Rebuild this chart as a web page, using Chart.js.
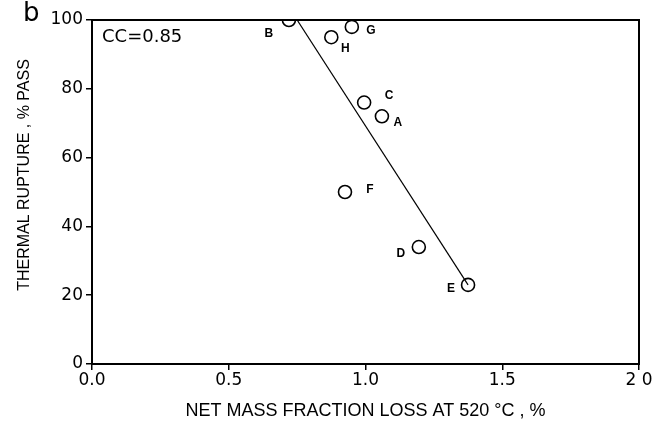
<!DOCTYPE html>
<html>
<head>
<meta charset="utf-8">
<script src="https://cdn.jsdelivr.net/npm/chart.js@4"></script>
<style>
  body { margin: 0; background: #fff; }
  #wrap { width: 666px; height: 430px; }
</style>
</head>
<body>
<div id="wrap"><canvas id="chart" width="666" height="430"></canvas></div>
<script>
// samples
const sampleNames = ['A', 'B', 'C', 'D', 'E', 'F', 'G', 'H'];
const massLoss = [1.06, 0.72, 0.995, 1.195, 1.375, 0.925, 0.95, 0.875];
const rupturePass = [72, 100, 76, 34, 23, 50, 98, 95];

// fitted line end points
const fitX = [0.75, 1.375];
const fitY = [100, 23];

const xTickLabels = ['0.0', '0.5', '1.0', '1.5', '2 0'];
const yTickLabels = ['0', '20', '40', '60', '80', '100'];

// where each letter sits relative to its circle (px)
const letterOffset = {
  A: [16, 6], B: [-20, 14], C: [25, -7], D: [-18, 7],
  E: [-17, 4], F: [25, -2], G: [19, 4], H: [14, 11]
};

const framePlugin = {
  id: 'frame',
  afterDraw(chart) {
    const ctx = chart.ctx;
    const a = chart.chartArea;
    ctx.save();
    ctx.strokeStyle = '#000';
    ctx.lineWidth = 2;
    ctx.strokeRect(a.left, a.top, a.right - a.left, a.bottom - a.top);

    ctx.fillStyle = '#000';
    // letters next to the circles
    ctx.font = 'bold 12px "Liberation Sans"';
    ctx.textAlign = 'center';
    ctx.textBaseline = 'middle';
    const meta = chart.getDatasetMeta(0);
    meta.data.forEach((pt, i) => {
      const off = letterOffset[sampleNames[i]];
      ctx.fillText(sampleNames[i], pt.x + off[0], pt.y + off[1]);
    });

    ctx.font = '18px "DejaVu Sans"';
    ctx.textAlign = 'left';
    ctx.fillText('CC=0.85', a.left + 10, a.top + 17);

    ctx.font = '26px "DejaVu Sans"';
    ctx.fillText('b', 23, 14);

    // y axis title
    ctx.font = '16px "Liberation Sans"';
    ctx.textAlign = 'center';
    ctx.translate(25, 175);
    ctx.rotate(-Math.PI / 2);
    ctx.fillText('THERMAL RUPTURE , % PASS', 0, 0);
    ctx.restore();
  }
};

new Chart(document.getElementById('chart'), {
  type: 'scatter',
  data: {
    datasets: [{
      label: 'samples',
      data: massLoss.map((v, i) => ({ x: v, y: rupturePass[i] })),
      pointStyle: 'circle',
      pointRadius: 6.5,
      pointBorderWidth: 1.6,
      pointBorderColor: '#000',
      pointBackgroundColor: 'rgba(0,0,0,0)',
      clip: { left: 0, top: 0, right: 0, bottom: 0 }
    }, {
      label: 'fit',
      type: 'line',
      data: fitX.map((v, i) => ({ x: v, y: fitY[i] })),
      borderColor: '#000',
      borderWidth: 1.2,
      pointRadius: 0,
      fill: false
    }]
  },
  options: {
    responsive: false,
    devicePixelRatio: 1,
    animation: false,
    layout: { padding: { left: 15, top: 20, right: 27, bottom: 8 } },
    plugins: {
      legend: { display: false },
      tooltip: { enabled: false }
    },
    scales: {
      x: {
        type: 'linear',
        min: 0,
        max: 2,
        border: { display: true, color: '#000', width: 2 },
        grid: { drawOnChartArea: false, color: '#000', lineWidth: 1.5, tickLength: 6 },
        ticks: {
          stepSize: 0.5,
          padding: 0,
          color: '#000',
          font: { family: 'DejaVu Sans', size: 17 },
          maxRotation: 0,
          callback: (v) => xTickLabels[Math.round(v / 0.5)]
        },
        title: {
          display: true,
          text: 'NET MASS FRACTION LOSS AT 520 °C , %',
          color: '#000',
          font: { family: 'Liberation Sans', size: 18 },
          padding: 0
        },
        afterFit: (s) => { s.height = 58; }
      },
      y: {
        min: 0,
        max: 100,
        border: { display: true, color: '#000', width: 2 },
        grid: { drawOnChartArea: false, color: '#000', lineWidth: 1.5, tickLength: 6 },
        ticks: {
          stepSize: 20,
          padding: 3,
          color: '#000',
          font: { family: 'DejaVu Sans', size: 17 },
          callback: (v) => yTickLabels[Math.round(v / 20)]
        },
        afterFit: (s) => { s.width = 77; }
      }
    }
  },
  plugins: [framePlugin]
});
</script>
</body>
</html>
